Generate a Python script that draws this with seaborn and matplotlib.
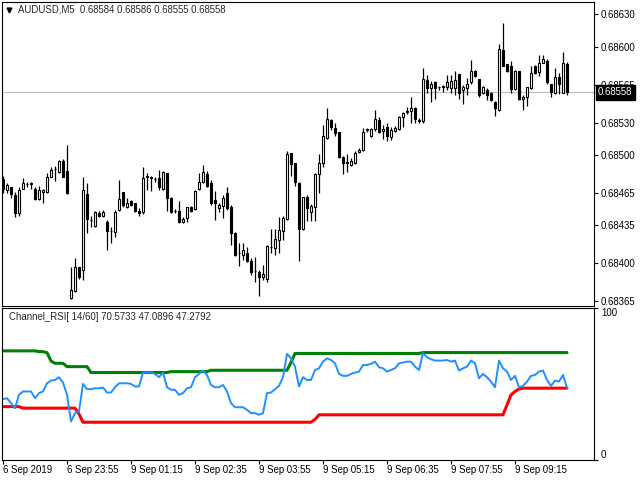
import numpy as np
import pandas as pd
import matplotlib
matplotlib.use("Agg")
import matplotlib.pyplot as plt
import matplotlib.transforms as mtransforms
import seaborn as sns

# AUDUSD M5 candles (one per 5 minutes)
opens = [
    0.68478, 0.68468, 0.68470, 0.68463, 0.68446, 0.68469, 0.68473, 0.68473, 0.68469, 0.68459,
    0.68466, 0.68466, 0.68480, 0.68487, 0.68484, 0.68494, 0.68485, 0.68368, 0.68374, 0.68396,
    0.68394, 0.68464, 0.68440, 0.68434, 0.68446, 0.68444, 0.68438, 0.68430, 0.68429, 0.68449,
    0.68466, 0.68452, 0.68457, 0.68456, 0.68448, 0.68447, 0.68480, 0.68479, 0.68478, 0.68479,
    0.68469, 0.68483, 0.68460, 0.68448, 0.68448, 0.68438, 0.68442, 0.68452, 0.68450, 0.68469,
    0.68475, 0.68482, 0.68474, 0.68458, 0.68451, 0.68453, 0.68465, 0.68452, 0.68428, 0.68409,
    0.68408, 0.68409, 0.68402, 0.68393, 0.68392, 0.68387, 0.68385, 0.68415, 0.68414, 0.68421,
    0.68430, 0.68441, 0.68502, 0.68493, 0.68474, 0.68432, 0.68461, 0.68447, 0.68452, 0.68482,
    0.68493, 0.68516, 0.68532, 0.68525, 0.68521, 0.68498, 0.68493, 0.68491, 0.68493, 0.68503,
    0.68505, 0.68523, 0.68518, 0.68524, 0.68532, 0.68522, 0.68526, 0.68517, 0.68522, 0.68524,
    0.68535, 0.68540, 0.68541, 0.68543, 0.68531, 0.68531, 0.68569, 0.68562, 0.68567, 0.68563,
    0.68563, 0.68563, 0.68562, 0.68562, 0.68575, 0.68560, 0.68562, 0.68567, 0.68578, 0.68570,
    0.68557, 0.68560, 0.68557, 0.68549, 0.68542, 0.68597, 0.68584, 0.68582, 0.68561, 0.68578,
    0.68552, 0.68554, 0.68562, 0.68582, 0.68577, 0.68585, 0.68587, 0.68566, 0.68557, 0.68572,
    0.68557, 0.68584,
]
highs = [
    0.68481, 0.68474, 0.68470, 0.68466, 0.68470, 0.68479, 0.68475, 0.68475, 0.68470, 0.68471,
    0.68469, 0.68483, 0.68489, 0.68490, 0.68495, 0.68496, 0.68509, 0.68396, 0.68405, 0.68396,
    0.68480, 0.68474, 0.68444, 0.68448, 0.68448, 0.68449, 0.68440, 0.68433, 0.68449, 0.68477,
    0.68466, 0.68460, 0.68458, 0.68456, 0.68451, 0.68489, 0.68483, 0.68481, 0.68480, 0.68486,
    0.68485, 0.68483, 0.68461, 0.68450, 0.68457, 0.68443, 0.68452, 0.68453, 0.68468, 0.68483,
    0.68491, 0.68485, 0.68477, 0.68467, 0.68456, 0.68463, 0.68470, 0.68454, 0.68429, 0.68419,
    0.68419, 0.68415, 0.68405, 0.68406, 0.68394, 0.68398, 0.68417, 0.68432, 0.68432, 0.68443,
    0.68444, 0.68504, 0.68502, 0.68493, 0.68475, 0.68461, 0.68463, 0.68455, 0.68483, 0.68501,
    0.68528, 0.68543, 0.68533, 0.68530, 0.68521, 0.68499, 0.68501, 0.68497, 0.68504, 0.68506,
    0.68525, 0.68525, 0.68525, 0.68542, 0.68535, 0.68528, 0.68530, 0.68526, 0.68527, 0.68536,
    0.68540, 0.68544, 0.68554, 0.68544, 0.68534, 0.68580, 0.68574, 0.68568, 0.68568, 0.68564,
    0.68565, 0.68574, 0.68574, 0.68578, 0.68575, 0.68565, 0.68571, 0.68588, 0.68579, 0.68570,
    0.68564, 0.68562, 0.68558, 0.68550, 0.68603, 0.68622, 0.68584, 0.68587, 0.68579, 0.68578,
    0.68555, 0.68563, 0.68582, 0.68583, 0.68592, 0.68592, 0.68589, 0.68566, 0.68580, 0.68576,
    0.68595, 0.68586,
]
lows = [
    0.68465, 0.68465, 0.68460, 0.68443, 0.68444, 0.68469, 0.68470, 0.68469, 0.68458, 0.68458,
    0.68456, 0.68465, 0.68480, 0.68476, 0.68483, 0.68480, 0.68464, 0.68367, 0.68373, 0.68385,
    0.68384, 0.68428, 0.68433, 0.68433, 0.68443, 0.68443, 0.68412, 0.68419, 0.68424, 0.68448,
    0.68452, 0.68451, 0.68453, 0.68447, 0.68444, 0.68445, 0.68468, 0.68467, 0.68475, 0.68468,
    0.68468, 0.68448, 0.68446, 0.68446, 0.68437, 0.68437, 0.68438, 0.68447, 0.68449, 0.68468,
    0.68474, 0.68470, 0.68454, 0.68440, 0.68447, 0.68442, 0.68449, 0.68417, 0.68407, 0.68397,
    0.68403, 0.68401, 0.68389, 0.68383, 0.68370, 0.68384, 0.68383, 0.68409, 0.68408, 0.68409,
    0.68421, 0.68440, 0.68481, 0.68471, 0.68402, 0.68431, 0.68439, 0.68439, 0.68439, 0.68465,
    0.68489, 0.68515, 0.68523, 0.68518, 0.68497, 0.68482, 0.68484, 0.68490, 0.68492, 0.68502,
    0.68504, 0.68521, 0.68517, 0.68522, 0.68520, 0.68515, 0.68513, 0.68514, 0.68521, 0.68523,
    0.68526, 0.68538, 0.68530, 0.68530, 0.68530, 0.68530, 0.68557, 0.68549, 0.68552, 0.68560,
    0.68558, 0.68560, 0.68557, 0.68555, 0.68552, 0.68547, 0.68555, 0.68566, 0.68572, 0.68554,
    0.68556, 0.68551, 0.68550, 0.68536, 0.68541, 0.68582, 0.68577, 0.68557, 0.68560, 0.68551,
    0.68542, 0.68545, 0.68561, 0.68575, 0.68573, 0.68585, 0.68566, 0.68554, 0.68556, 0.68556,
    0.68557, 0.68555,
]
closes = [
    0.68469, 0.68472, 0.68464, 0.68446, 0.68468, 0.68474, 0.68473, 0.68474, 0.68459, 0.68468,
    0.68468, 0.68480, 0.68486, 0.68487, 0.68494, 0.68480, 0.68465, 0.68375, 0.68396, 0.68387,
    0.68468, 0.68441, 0.68440, 0.68447, 0.68444, 0.68447, 0.68430, 0.68430, 0.68447, 0.68459,
    0.68454, 0.68456, 0.68454, 0.68448, 0.68446, 0.68479, 0.68480, 0.68480, 0.68478, 0.68470,
    0.68484, 0.68460, 0.68447, 0.68448, 0.68438, 0.68441, 0.68452, 0.68448, 0.68467, 0.68475,
    0.68484, 0.68471, 0.68456, 0.68456, 0.68454, 0.68460, 0.68451, 0.68428, 0.68408, 0.68409,
    0.68412, 0.68402, 0.68392, 0.68393, 0.68387, 0.68390, 0.68416, 0.68415, 0.68422, 0.68431,
    0.68442, 0.68501, 0.68492, 0.68475, 0.68432, 0.68461, 0.68451, 0.68453, 0.68482, 0.68493,
    0.68518, 0.68533, 0.68526, 0.68520, 0.68498, 0.68493, 0.68493, 0.68494, 0.68502, 0.68505,
    0.68521, 0.68524, 0.68524, 0.68533, 0.68521, 0.68524, 0.68518, 0.68523, 0.68525, 0.68535,
    0.68539, 0.68541, 0.68543, 0.68533, 0.68532, 0.68570, 0.68562, 0.68566, 0.68562, 0.68563,
    0.68564, 0.68567, 0.68568, 0.68569, 0.68557, 0.68563, 0.68566, 0.68578, 0.68573, 0.68555,
    0.68563, 0.68555, 0.68551, 0.68543, 0.68598, 0.68582, 0.68578, 0.68561, 0.68578, 0.68552,
    0.68554, 0.68563, 0.68576, 0.68576, 0.68585, 0.68589, 0.68567, 0.68558, 0.68572, 0.68566,
    0.68585, 0.68558,
]

# Channel_RSI(14/60) buffers
rsi = [
    39.8, 40.5, 37.2, 33.9, 42.7, 44.9, 44.9, 44.9, 40.5, 43.8,
    44.9, 50.3, 52.1, 52.5, 54.3, 50.8, 42.7, 25.1, 30.6, 31.7,
    49.9, 46.4, 46.4, 47.0, 47.0, 47.5, 44.2, 44.2, 47.7, 50.3,
    50.3, 50.3, 49.9, 48.2, 48.2, 57.4, 57.4, 57.4, 56.5, 54.3,
    57.4, 47.7, 46.0, 46.0, 42.7, 43.8, 47.0, 47.7, 54.3, 56.5,
    58.7, 55.8, 49.2, 47.7, 47.7, 49.2, 44.9, 37.2, 34.5, 34.5,
    34.5, 32.8, 30.6, 30.6, 29.5, 30.6, 43.8, 44.2, 46.4, 48.6,
    54.3, 69.7, 66.8, 61.3, 48.2, 54.3, 52.5, 52.5, 59.1, 60.2,
    64.6, 66.8, 65.7, 63.5, 56.5, 55.2, 55.2, 56.5, 57.4, 58.0,
    62.4, 62.4, 63.1, 64.6, 60.9, 60.2, 58.0, 59.1, 60.2, 63.5,
    64.0, 64.6, 64.6, 61.3, 59.1, 70.1, 67.5, 66.2, 65.3, 65.3,
    65.3, 65.7, 64.6, 65.3, 58.7, 60.2, 61.3, 65.3, 63.5, 53.6,
    56.5, 54.3, 51.4, 47.7, 65.3, 60.2, 58.0, 52.5, 55.2, 47.7,
    48.6, 51.4, 55.2, 55.8, 58.0, 58.7, 52.5, 48.6, 52.1, 51.4,
    55.8, 47.2792,
]
upper = ([71.7] * 9 + [71.2] * 2 + [70.5] + [65.0] + [63.5] * 3 + [61.3] * 6
         + [57.4] * 20 + [58.0] * 10 + [58.9] * 20 + [64.0] + [70.0] * 32 + [70.5733] * 37)
lower = ([34.9] * 5 + [33.9] * 14 + [30.0] + [24.6] * 58 + [26.5] + [29.5] * 47
         + [36.0, 42.6, 44.9, 46.5] + [47.0896] * 12)

price_ticks = [0.68630, 0.68600, 0.68565, 0.68530, 0.68500, 0.68465, 0.68435, 0.68400, 0.68365]
time_labels = ["6 Sep 2019", "6 Sep 23:55", "9 Sep 01:15", "9 Sep 02:35", "9 Sep 03:55",
               "9 Sep 05:15", "9 Sep 06:35", "9 Sep 07:55", "9 Sep 09:15"]
last_price = 0.68558

sns.set_theme(style="white")
plt.rcParams['font.family'] = ['Liberation Sans', 'DejaVu Sans']
plt.rcParams['axes.edgecolor'] = 'black'
plt.rcParams['axes.linewidth'] = 0.8

W, H = 640, 480
fig = plt.figure(figsize=(6.4, 4.8), dpi=100)
fig.patch.set_facecolor('white')

ax1 = fig.add_axes([2 / W, 1 - 306 / H, 592 / W, 304 / H])
ax2 = fig.add_axes([2 / W, 1 - 459.5 / H, 592 / W, 151.5 / H], sharex=ax1)

n = len(closes)
x = np.arange(n)
o = np.array(opens)
c = np.array(closes)

# --- candles
ax1.axhline(last_price, color='#c0c0c0', lw=0.9, zorder=0)
ax1.vlines(x, lows, highs, color='black', lw=0.9, zorder=1)
bottoms = np.minimum(o, c)
heights = np.maximum(np.abs(c - o), 0.0000015)
faces = np.where(c >= o, 'white', 'black')
ax1.bar(x, heights, bottom=bottoms, width=0.7, color=faces, edgecolor='black',
        linewidth=0.8, zorder=2)

ax1.set_xlim(-0.25, 147.75)
ax1.set_ylim(0.683604, 0.686414)
ax1.yaxis.tick_right()
ax1.set_yticks(price_ticks, [f"{p:.5f}" for p in price_ticks])
ax1.tick_params(axis='y', which='both', right=True, length=3, width=0.8, pad=2,
                labelsize=6.9, colors='black')
ax1.tick_params(axis='x', bottom=False, labelbottom=False)
ax1.set_xlabel('')
ax1.set_ylabel('')

# last price tag sits on top of the axis, as in the terminal
trans = mtransforms.blended_transform_factory(ax1.transAxes, ax1.transData)
ax1.text(1 + 4 / 592, last_price, f"{last_price:.5f}", transform=trans, ha='left',
         va='center', color='white', fontsize=6.9, clip_on=False, zorder=10,
         bbox=dict(boxstyle='square,pad=0.25', fc='black', ec='black'))

fig.text(18 / W, 1 - 10 / H, "AUDUSD,M5  0.68584 0.68586 0.68555 0.68558",
         fontsize=6.9, va='center', ha='left')
ax1.plot([7 / 592], [1 - 8 / 304], marker='v', color='black', markersize=3.5,
         transform=ax1.transAxes, clip_on=False)

# --- Channel RSI
df = pd.DataFrame({'bar': x, 'rsi': rsi, 'upper': upper, 'lower': lower})
sns.lineplot(data=df, x='bar', y='upper', color='#008000', lw=2.2, ax=ax2)
sns.lineplot(data=df, x='bar', y='lower', color='#ff0000', lw=2.2, ax=ax2)
sns.lineplot(data=df, x='bar', y='rsi', color='#1e90ff', lw=1.4, ax=ax2)

ax2.set_ylim(0, 100)
ax2.yaxis.tick_right()
ax2.set_yticks([0, 100], ['0', '100'])
ylabs = ax2.get_yticklabels()
ylabs[0].set_va('bottom')
ylabs[1].set_va('top')
ax2.tick_params(axis='y', right=True, length=3, width=0.8, pad=2, labelsize=6.9,
                colors='black')
ax2.set_xticks(np.arange(0, n, 16), time_labels)
for lbl in ax2.get_xticklabels():
    lbl.set_ha('left')
ax2.tick_params(axis='x', bottom=True, length=3, width=0.8, pad=1, labelsize=6.9,
                colors='black')
ax2.set_xlabel('')
ax2.set_ylabel('')
ax2.text(7 / 592, 1 - 9 / 151.5, "Channel_RSI[ 14/60] 70.5733 47.0896 47.2792",
         transform=ax2.transAxes, fontsize=6.9, va='center', ha='left')

for ax in (ax1, ax2):
    ax.grid(False)
    for s in ax.spines.values():
        s.set_visible(True)
        s.set_color('black')
        s.set_linewidth(0.8)

fig.savefig('out.png', dpi=100, facecolor='white')
